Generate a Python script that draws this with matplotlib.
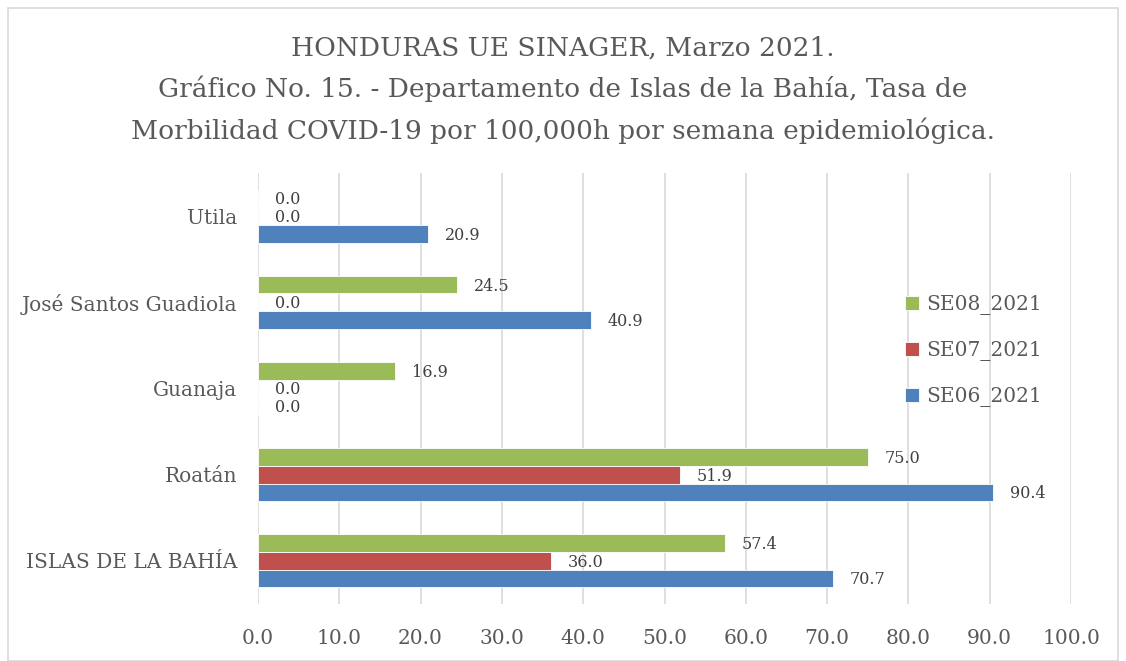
import numpy as np
import matplotlib
matplotlib.use('Agg')
import matplotlib.pyplot as plt
from matplotlib.patches import Rectangle

categories = ['ISLAS DE LA BAHÍA', 'Roatán', 'Guanaja', 'José Santos Guadiola', 'Utila']
se06 = [70.7, 90.4, 0.0, 40.9, 20.9]
se07 = [36.0, 51.9, 0.0, 0.0, 0.0]
se08 = [57.4, 75.0, 16.9, 24.5, 0.0]
xticks = [0, 10, 20, 30, 40, 50, 60, 70, 80, 90, 100]

txt = '#595959'
plt.rcParams['font.family'] = ['DejaVu Serif']

fig = plt.figure(figsize=(11.26, 6.61), dpi=100)
fig.patches.append(Rectangle((8/1126, 0), 1110/1126, 1 - 8/661, transform=fig.transFigure,
                             fill=False, edgecolor='#D9D9D9', linewidth=1.2))
ax = fig.add_axes([258/1126, 1 - 604/661, (1071 - 258)/1126, (604 - 173)/661])

y = np.arange(len(categories))
h = 0.205
series = [(se06, '#4F81BD', 'SE06_2021', -h), (se07, '#C0504D', 'SE07_2021', 0), (se08, '#9BBB59', 'SE08_2021', h)]
for vals, col, lab, off in series:
    bars = ax.barh(y + off, vals, height=h, color=col, label=lab, edgecolor='white', linewidth=0.6)
    for b, v in zip(bars, vals):
        ax.annotate(f'{v:.1f}', (b.get_width(), b.get_y() + b.get_height()/2),
                    xytext=(12, -1), textcoords='offset points', va='center', ha='left',
                    fontsize=11.5, color='#404040')

ax.set_xlim(0, 100)
ax.set_ylim(-0.5, len(categories) - 0.5)
ax.set_xticks(xticks)
ax.set_xticklabels([f'{v:.1f}' for v in xticks])
ax.set_yticks(y)
ax.set_yticklabels(categories)
ax.tick_params(axis='both', length=0, labelsize=14.5, colors=txt)
ax.tick_params(axis='x', pad=18)
ax.tick_params(axis='y', pad=15)
ax.grid(axis='x', color='#D9D9D9', linewidth=1.2)
ax.set_axisbelow(True)
for s in ax.spines.values():
    s.set_visible(False)

handles, labels = ax.get_legend_handles_labels()
leg = ax.legend(handles[::-1], labels[::-1], loc='center left', bbox_to_anchor=(0.773, 0.587),
                frameon=False, fontsize=14.5, handlelength=0.7, handleheight=0.7,
                handletextpad=0.4, labelspacing=1.3, labelcolor=txt)

fig.text(0.5, 1 - 90/661, 'HONDURAS UE SINAGER, Marzo 2021.\nGráfico No. 15. - Departamento de Islas de la Bahía, Tasa de\nMorbilidad COVID-19 por 100,000h por semana epidemiológica.',
         ha='center', va='center', fontsize=19, color=txt, linespacing=1.7)

fig.savefig('out.png', dpi=100)
